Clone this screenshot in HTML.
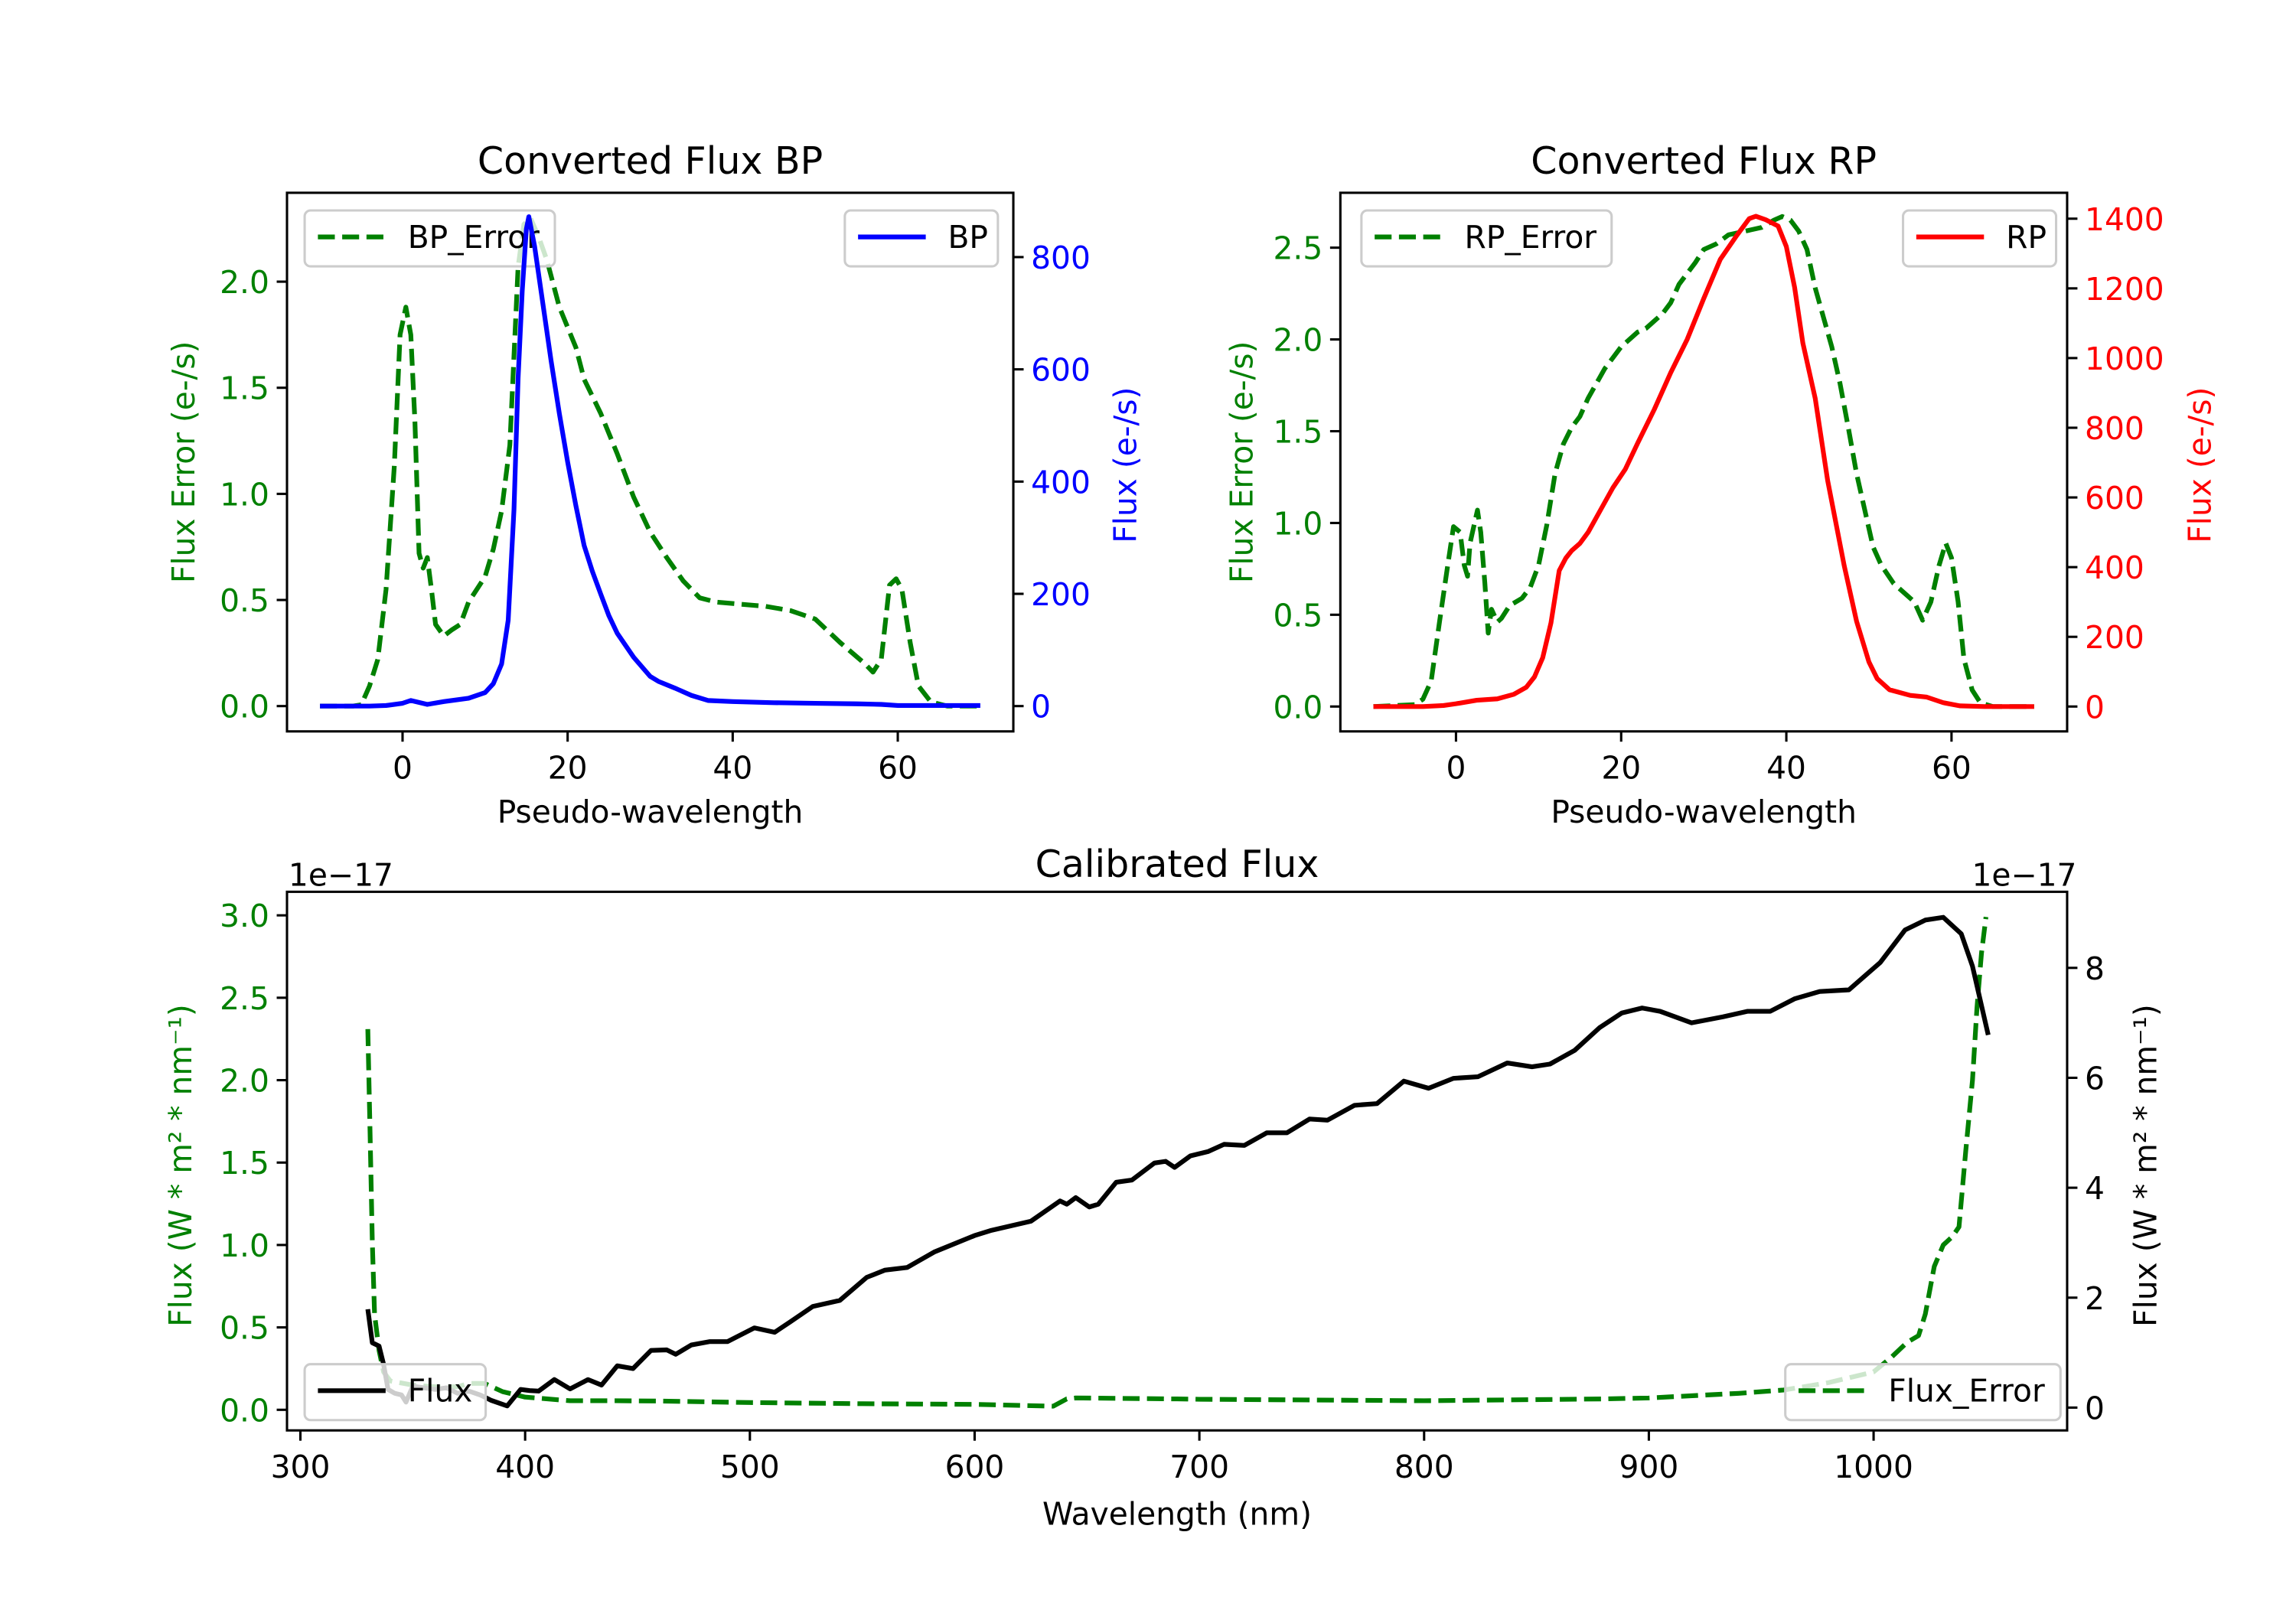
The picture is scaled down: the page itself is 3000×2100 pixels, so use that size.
<!DOCTYPE html>
<html><head><meta charset="utf-8"><title>Flux charts</title>
<style>
html,body{margin:0;padding:0;background:#fff;}
svg{display:block;font-family:"DejaVu Sans","Liberation Sans",sans-serif;}
</style></head>
<body>
<svg id="fig" xmlns="http://www.w3.org/2000/svg" width="3000" height="2100" viewBox="0 0 1560 1092"></svg>
<script>
// ---- BP chart data ----
const bpX = [-10,-4,-2,0,1,3,5,8,10,11,12,12.8,13.5,14,14.5,15,15.3,16,17,18,19,20,21,22,23,24,25,26,28,30,31,33,35,37,40,45,50,55,58,60,65,70];
const bpFlux = [0,0,1,5,10,3,8,14,24,40,75,153,350,584,740,850,872,819,717,615,521,435,357,286,240,200,161,130,87,53,44,32,19,10,8,6,5,4,3,1,1,1];
const bpErrX = [-10,-6,-5,-4,-3,-2,-1,-0.3,0.4,1,1.5,2,2.5,3,3.5,4,5,6,7,8,10,11,12,13,13.5,14,14.7,15.5,16.5,17.5,19,21,22,24,26,28,30,32,34,36,38,41,44,47,50,53,56,57,58,59,59.8,60.5,61.5,62.5,64,66,70];
const bpErr = [0,0,0.006,0.095,0.22,0.55,1.13,1.75,1.88,1.75,1.34,0.72,0.65,0.70,0.55,0.385,0.33,0.36,0.385,0.49,0.61,0.74,0.92,1.23,1.65,2.07,2.27,2.30,2.21,2.10,1.88,1.69,1.54,1.38,1.19,0.985,0.82,0.70,0.59,0.51,0.49,0.48,0.47,0.45,0.41,0.30,0.20,0.16,0.22,0.57,0.60,0.55,0.30,0.095,0.02,0,0];
const bpLeftTicks = [0,0.5,1.0,1.5,2.0];
const bpRightTicks = [0,200,400,600,800];
// ---- RP chart data ----
const rpX = [-10,-4,-1.5,0,2.5,5,7,8.5,9.5,10.5,11.5,12.5,13.3,14,15,16,17.5,19,20.5,22,24,26,28,30,32,34,35.5,36.3,37.5,39,40,41,42,43.5,45,47,48.5,50,51,52.5,55,57,59,61,64,70];
const rpFlux = [0,0,3,8,18,22,35,55,85,140,240,390,426,447,468,500,564,628,681,756,852,958,1054,1171,1283,1352,1400,1407,1397,1379,1320,1203,1043,884,649,405,245,128,80,48,32,27,11,2,0,0];
const rpErrX = [-10,-5,-4,-3,-2,-1,-0.3,0.5,1.0,1.4,1.7,2.2,2.6,3.0,3.5,3.9,4.3,5,5.5,6.5,8,9,10,11,12,13,14,15,16,17,18,19,20,21,22,23,24,25,26,27,28,29,30,31.5,33,35,37,38.5,39.5,40.5,41.5,42.5,43.5,44.5,45.5,46.5,47.5,48.5,49.5,50.5,51.5,53,54.5,55.5,56.5,57.5,58.5,59.3,60,60.8,61.5,62.5,63.5,65,70];
const rpErr = [0,0.01,0.04,0.14,0.46,0.77,0.98,0.95,0.77,0.71,0.89,0.99,1.07,0.95,0.67,0.40,0.53,0.46,0.48,0.55,0.59,0.65,0.77,0.99,1.27,1.43,1.52,1.58,1.68,1.76,1.84,1.90,1.96,2.00,2.04,2.06,2.10,2.14,2.20,2.30,2.36,2.42,2.49,2.52,2.57,2.59,2.61,2.65,2.67,2.65,2.59,2.49,2.28,2.12,1.96,1.76,1.52,1.27,1.07,0.87,0.77,0.67,0.61,0.57,0.47,0.57,0.77,0.89,0.81,0.57,0.26,0.09,0.02,0,0];
const rpLeftTicks = [0,0.5,1.0,1.5,2.0,2.5];
const rpRightTicks = [0,200,400,600,800,1000,1200,1400];
const pxTicks = [0,20,40,60];
// ---- Calibrated data ----
const calX = [330,332,335,337,339,342,345,347,350,355,360,365,370,375,380,385,392,398,402,406,413,420,428,434,441,448,456,463,467,474,482,490,502,511,518,528,540,552,560,570,582,600,607,625,638,641,645,651,655,663,670,680,685,689,696,704,711,720,730,739,749,757,769,779,791,802,813,824,837,848,856,867,878,888,897,905,919,933,944,954,965,976,989,1003,1014,1023,1031,1039,1044,1051];
const calFlux = [1.79,1.18,1.12,0.79,0.33,0.26,0.23,0.10,0.39,0.36,0.33,0.36,0.26,0.30,0.23,0.13,0.03,0.33,0.31,0.30,0.51,0.34,0.51,0.41,0.76,0.71,1.04,1.05,0.97,1.14,1.20,1.20,1.45,1.37,1.56,1.84,1.95,2.37,2.50,2.55,2.83,3.13,3.22,3.39,3.76,3.70,3.82,3.65,3.70,4.10,4.14,4.45,4.48,4.37,4.58,4.66,4.79,4.77,5.00,5.00,5.25,5.23,5.50,5.53,5.94,5.81,5.99,6.02,6.27,6.20,6.25,6.50,6.91,7.18,7.27,7.21,7.00,7.11,7.21,7.21,7.44,7.57,7.60,8.10,8.69,8.87,8.92,8.62,8.03,6.78];
const calErrX = [330,331,332,333,335,337,340,350,360,370,375,382,390,400,420,440,460,500,550,600,635,641,645,690,700,800,880,900,940,960,980,1000,1008,1015,1020,1023,1027,1031,1035,1038,1041,1044,1046,1048,1050];
const calErr = [2.31,1.68,1.02,0.58,0.36,0.23,0.175,0.15,0.14,0.14,0.16,0.16,0.11,0.077,0.055,0.055,0.053,0.044,0.037,0.033,0.022,0.066,0.072,0.066,0.064,0.055,0.066,0.072,0.10,0.12,0.165,0.23,0.32,0.41,0.45,0.58,0.87,1.0,1.05,1.11,1.57,2.0,2.44,2.77,2.99];
const calXTicks = [300,400,500,600,700,800,900,1000];
const calLeftTicks = [0,0.5,1.0,1.5,2.0,2.5,3.0];
const calRightTicks = [0,2,4,6,8];

const NS = "http://www.w3.org/2000/svg";
const svg = document.getElementById('fig');
function mk(tag, attrs, parent){
  const e = document.createElementNS(NS, tag);
  for (const k in attrs) e.setAttribute(k, attrs[k]);
  (parent||svg).appendChild(e);
  return e;
}
function txt(s, x, y, size, color, anchor, rot){
  const t = mk('text', {x:x, y:y, 'font-size':size, fill:color, 'text-anchor':anchor||'middle'});
  if (rot) t.setAttribute('transform', 'rotate('+rot+' '+x+' '+y+')');
  t.textContent = s;
  return t;
}
function lin(d0, p0, d1, p1){ return v => p0 + (v - d0) * (p1 - p0) / (d1 - d0); }
function pathD(xs, ys, fx, fy){
  return xs.map((v,i)=>(i?'L':'M')+fx(v).toFixed(2)+' '+fy(ys[i]).toFixed(2)).join(' ');
}
function fmt(v, dec){ return dec ? v.toFixed(dec) : String(v); }

const TS = 21.2, LW = 3.2, AXW = 1.6;

function axesBox(x0,y0,x1,y1,name){
  const r = mk('rect', {x:x0,y:y0,width:x1-x0,height:y1-y0,fill:'none',stroke:'#000','stroke-width':AXW});
  
  
}
function xTicks(ticks, fx, yb, name){
  ticks.forEach(v=>{
    const l = mk('line',{x1:fx(v),x2:fx(v),y1:yb,y2:yb+7,stroke:'#000','stroke-width':AXW});
    
    
    const t = txt(String(v), fx(v), yb+32, TS, '#000');
    
    
  });
}
function yTicks(ticks, fy, xe, side, color, dec, name){
  ticks.forEach(v=>{
    const dx = side==='left' ? -7 : 7;
    const l = mk('line',{x1:xe,x2:xe+dx,y1:fy(v),y2:fy(v),stroke:'#000','stroke-width':AXW});
    
    
    const t = txt(fmt(v,dec), side==='left'? xe-12 : xe+12, fy(v)+7.8, TS, color, side==='left'?'end':'start');
    
    
  });
}
function series(xs, ys, fx, fy, color, dashed, name){
  const p = mk('path',{d:pathD(xs,ys,fx,fy),fill:'none',stroke:color,'stroke-width':LW,'stroke-linejoin':'round'});
  if (dashed) p.setAttribute('stroke-dasharray','11.5 5');
  
  
}
function legend(x,y,w,label,color,dashed,name){
  const g = mk('g',{});
  
  
  mk('rect',{x:x,y:y,width:w,height:38,rx:4,fill:'#fff','fill-opacity':0.8,stroke:'#ccc','stroke-width':1.6},g);
  const l = mk('line',{x1:x+9,x2:x+55,y1:y+18,y2:y+18,stroke:color,'stroke-width':LW},g);
  if (dashed) l.setAttribute('stroke-dasharray','11.5 5');
  const t = mk('text',{x:x+70,y:y+25.5,'font-size':TS,fill:'#000'},g);
  t.textContent = label;
}

// ===== BP =====
{
  const X0=195, X1=688.5, Y0=131, Y1=497;
  const fx = lin(-14, X0, 74, X1);
  const fyL = lin(0, 479.8, 2.0, 191.4);
  const fyR = lin(0, 479.8, 800, 174.7);
  series(bpErrX, bpErr, fx, fyL, '#008000', true, 'bp-error-line');
  legend(207,143,170,'BP_Error','#008000',true,'bp-error-legend');
  series(bpX, bpFlux, fx, fyR, '#0000ff', false, 'bp-flux-line');
  legend(574,143,104,'BP','#0000ff',false,'bp-legend');
  axesBox(X0,Y0,X1,Y1,'bp-axes-frame');
  xTicks(pxTicks, fx, Y1, 'bp-x');
  yTicks(bpLeftTicks, fyL, X0, 'left', '#008000', 1, 'bp-left-y');
  yTicks(bpRightTicks, fyR, X1, 'right', '#0000ff', 0, 'bp-right-y');
  let t = txt('Converted Flux BP', (X0+X1)/2, 118, 25.5, '#000');
   
  t = txt('Pseudo-wavelength', (X0+X1)/2, 559, TS, '#000');
   
  t = txt('Flux Error (e-/s)', 132, 314, TS, '#008000', 'middle', -90);
   
  t = txt('Flux (e-/s)', 772, 316, TS, '#0000ff', 'middle', -90);
   
}
// ===== RP =====
{
  const X0=910.7, X1=1404.5, Y0=131, Y1=497;
  const fx = lin(-14, X0, 74, X1);
  const fyL = lin(0, 480.1, 2.5, 168.3);
  const fyR = lin(0, 480.1, 1400, 148.6);
  series(rpErrX, rpErr, fx, fyL, '#008000', true, 'rp-error-line');
  legend(925,143,170,'RP_Error','#008000',true,'rp-error-legend');
  series(rpX, rpFlux, fx, fyR, '#ff0000', false, 'rp-flux-line');
  legend(1293,143,104,'RP','#ff0000',false,'rp-legend');
  axesBox(X0,Y0,X1,Y1,'rp-axes-frame');
  xTicks(pxTicks, fx, Y1, 'rp-x');
  yTicks(rpLeftTicks, fyL, X0, 'left', '#008000', 1, 'rp-left-y');
  yTicks(rpRightTicks, fyR, X1, 'right', '#ff0000', 0, 'rp-right-y');
  let t = txt('Converted Flux RP', (X0+X1)/2, 118, 25.5, '#000');
   
  t = txt('Pseudo-wavelength', (X0+X1)/2, 559, TS, '#000');
   
  t = txt('Flux Error (e-/s)', 851, 314, TS, '#008000', 'middle', -90);
   
  t = txt('Flux (e-/s)', 1502, 316, TS, '#ff0000', 'middle', -90);
   
}
// ===== Calibrated =====
{
  const X0=195, X1=1404.5, Y0=606, Y1=972;
  const fx = lin(300, 204.1, 1000, 1273);
  const fyL = lin(0, 958, 3.0, 622);
  const fyR = lin(0, 956.5, 8, 657.7);
  series(calErrX, calErr, fx, fyL, '#008000', true, 'calibrated-error-line');
  series(calX, calFlux, fx, fyR, '#000000', false, 'calibrated-flux-line');
  legend(207,927,123,'Flux','#000',false,'flux-legend');
  legend(1213,927,187,'Flux_Error','#008000',true,'flux-error-legend');
  axesBox(X0,Y0,X1,Y1,'calibrated-axes-frame');
  xTicks(calXTicks, fx, Y1, 'calibrated-x');
  yTicks(calLeftTicks, fyL, X0, 'left', '#008000', 1, 'calibrated-left-y');
  yTicks(calRightTicks, fyR, X1, 'right', '#000', 0, 'calibrated-right-y');
  let t = txt('Calibrated Flux', (X0+X1)/2, 596, 25.5, '#000');
   
  t = txt('Wavelength (nm)', (X0+X1)/2, 1036, TS, '#000');
   
  t = txt('1e\u221217', 196, 602, TS, '#000', 'start');
   
  t = txt('1e\u221217', 1411, 602, TS, '#000', 'end');
   
  t = txt('Flux (W * m\u00b2 * nm\u207b\u00b9)', 130, 792, TS, '#008000', 'middle', -90);
   
  t = txt('Flux (W * m\u00b2 * nm\u207b\u00b9)', 1465, 792, TS, '#000', 'middle', -90);
   
}
</script>
</body></html>
